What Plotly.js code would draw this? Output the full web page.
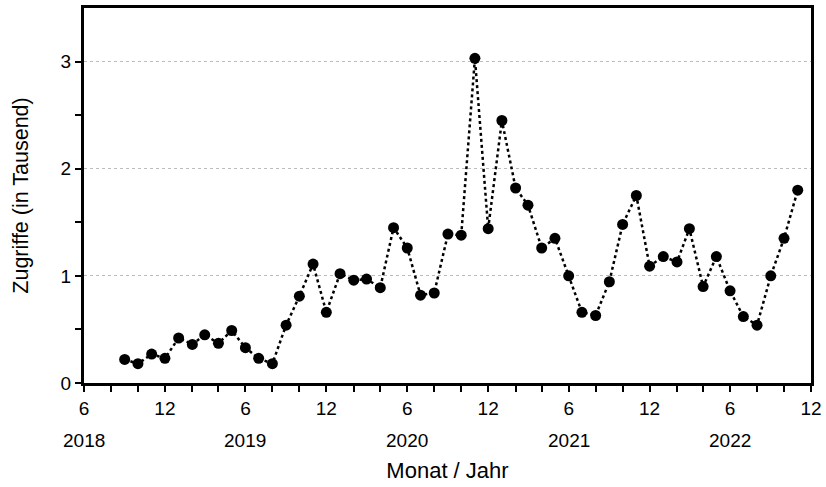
<!DOCTYPE html>
<html>
<head>
<meta charset="utf-8">
<script src="https://cdn.plot.ly/plotly-3.0.1.min.js"></script>
<style>html,body{margin:0;padding:0;background:#fff;}#chart{width:826px;height:487px;}</style>
</head>
<body>
<div id="chart"></div>
<script>
const months = [
  '2018-09-01','2018-10-01','2018-11-01','2018-12-01',
  '2019-01-01','2019-02-01','2019-03-01','2019-04-01','2019-05-01','2019-06-01',
  '2019-07-01','2019-08-01','2019-09-01','2019-10-01','2019-11-01','2019-12-01',
  '2020-01-01','2020-02-01','2020-03-01','2020-04-01','2020-05-01','2020-06-01',
  '2020-07-01','2020-08-01','2020-09-01','2020-10-01','2020-11-01','2020-12-01',
  '2021-01-01','2021-02-01','2021-03-01','2021-04-01','2021-05-01','2021-06-01',
  '2021-07-01','2021-08-01','2021-09-01','2021-10-01','2021-11-01','2021-12-01',
  '2022-01-01','2022-02-01','2022-03-01','2022-04-01','2022-05-01','2022-06-01',
  '2022-07-01','2022-08-01','2022-09-01','2022-10-01','2022-11-01'
];
const zugriffe = [
  0.22, 0.18, 0.27, 0.23,
  0.42, 0.36, 0.45, 0.37, 0.49, 0.33, 0.23, 0.18, 0.54, 0.81, 1.11, 0.66,
  1.02, 0.96, 0.97, 0.89, 1.45, 1.26, 0.82, 0.84, 1.39, 1.38, 3.03, 1.44,
  2.45, 1.82, 1.66, 1.26, 1.35, 1.00, 0.66, 0.63, 0.945, 1.48, 1.75, 1.09,
  1.18, 1.13, 1.44, 0.90, 1.18, 0.86, 0.62, 0.54, 1.00, 1.35, 1.80
];
const tickVals = ['2018-06-01','2018-12-01','2019-06-01','2019-12-01','2020-06-01',
  '2020-12-01','2021-06-01','2021-12-01','2022-06-01','2022-12-01'];
const tickText = ['6','12','6','12','6','12','6','12','6','12'];
const yearPos = ['2018-06-01','2019-06-01','2020-06-01','2021-06-01','2022-06-01'];
const yearText = ['2018','2019','2020','2021','2022'];

const FONT = 'Liberation Sans, Arial, sans-serif';

const trace = {
  x: months, y: zugriffe, type: 'scatter', mode: 'lines+markers',
  line: {color: '#000', width: 2.5, dash: 'dot'},
  marker: {color: '#000', size: 11},
  hoverinfo: 'x+y'
};

const layout = {
  width: 826, height: 487,
  margin: {l: 84, r: 15, t: 8, b: 104},
  paper_bgcolor: '#fff', plot_bgcolor: '#fff',
  font: {family: FONT, color: '#000000', size: 19},
  showlegend: false,
  xaxis: {
    type: 'date', range: ['2018-06-01', '2022-12-01'],
    tickmode: 'array', tickvals: tickVals, ticktext: tickText,
    ticks: 'outside', ticklen: 6, tickwidth: 2, tickcolor: '#000',
    minor: {dtick: 'M2', tick0: '2018-06-01', ticks: 'outside', ticklen: 6, tickwidth: 2, tickcolor: '#000', showgrid: false},
    showline: true, linecolor: '#000', linewidth: 3, mirror: true,
    showgrid: false, zeroline: false, automargin: false,
    tickfont: {family: FONT, size: 19, color: '#000000'},
    title: {text: 'Monat / Jahr', font: {family: FONT, size: 22, color: '#000000'}, standoff: 45}
  },
  yaxis: {
    range: [0, 3.5], tickmode: 'array', tickvals: [0, 1, 2, 3], ticktext: ['0', '1', '2', '3'],
    ticks: 'outside', ticklen: 6, tickwidth: 2, tickcolor: '#000',
    minor: {tickvals: [0.5, 1.5, 2.5], ticks: 'outside', ticklen: 6, tickwidth: 2, tickcolor: '#000', showgrid: false},
    showline: true, linecolor: '#000', linewidth: 3, mirror: true,
    showgrid: true, gridcolor: '#bcbcbc', gridwidth: 1, griddash: 'dot',
    zeroline: false, automargin: false,
    tickfont: {family: FONT, size: 19, color: '#000000'},
    title: {text: 'Zugriffe (in Tausend)', font: {family: FONT, size: 21.5, color: '#000000'}, standoff: 27}
  },
  annotations: yearPos.map((d, i) => ({
    x: d, xref: 'x', y: 0, yref: 'paper', yshift: -57,
    text: yearText[i], showarrow: false, xanchor: 'center', yanchor: 'middle',
    font: {family: FONT, size: 19, color: '#000000'}
  }))
};

Plotly.newPlot('chart', [trace], layout, {displayModeBar: false, staticPlot: true});
</script>
</body>
</html>
